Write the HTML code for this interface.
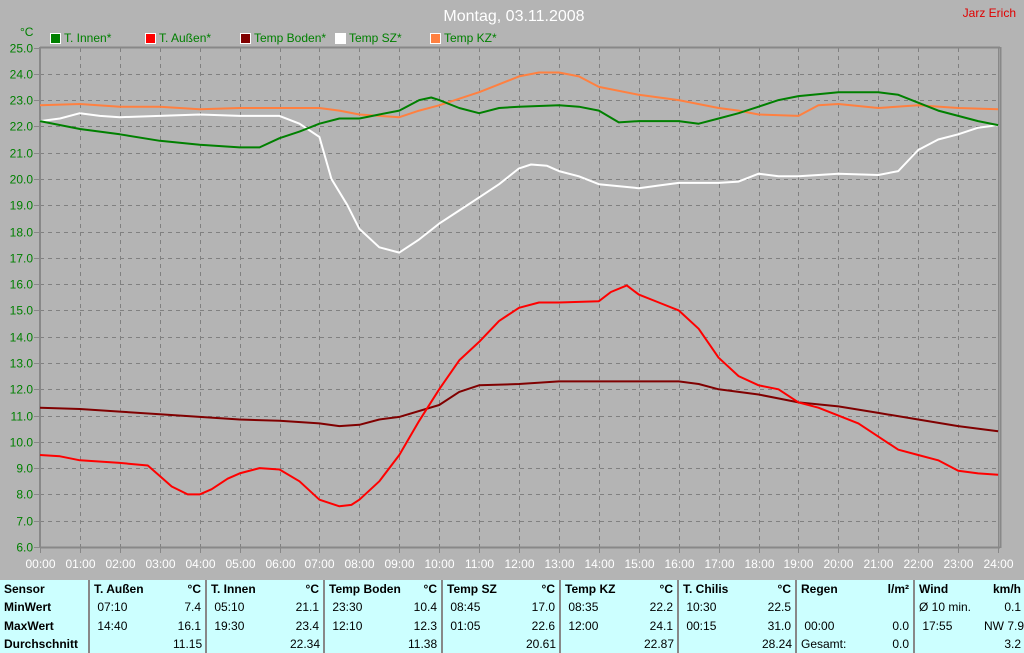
<!DOCTYPE html>
<html><head><meta charset="utf-8"><style>
body{margin:0;width:1024px;height:653px;background:#b4b4b4;overflow:hidden;font-family:"Liberation Sans",sans-serif;}
svg{position:absolute;left:0;top:0}
table{position:absolute;left:0;top:580px;width:1024px;height:73px;background:#ccffff;border-collapse:collapse;font-size:12px;table-layout:fixed}
td{padding:0 4px;height:16px;line-height:14px;vertical-align:middle;white-space:nowrap;overflow:hidden}
td.b{font-weight:bold}
td.r{text-align:right}
td.sep{border-right:2px solid #888}
</style></head><body>
<svg width="1024" height="580" font-family="Liberation Sans, sans-serif">
<text x="514" y="21" fill="#fff" font-size="16" text-anchor="middle">Montag, 03.11.2008</text>
<text x="1016" y="17" fill="#e00000" font-size="12" text-anchor="end">Jarz Erich</text>
<text x="20" y="36" fill="#008000" font-size="12">°C</text>
<g font-size="12" fill="#008000">
<rect x="50.5" y="33.5" width="10" height="10" fill="#008000" stroke="#fff"/><text x="64" y="42">T. Innen*</text>
<rect x="145.5" y="33.5" width="10" height="10" fill="#ff0000" stroke="#fff"/><text x="159" y="42">T. Außen*</text>
<rect x="240.5" y="33.5" width="10" height="10" fill="#800000" stroke="#fff"/><text x="254" y="42">Temp Boden*</text>
<rect x="335.5" y="33.5" width="10" height="10" fill="#fff" stroke="#fff"/><text x="349" y="42">Temp SZ*</text>
<rect x="430.5" y="33.5" width="10" height="10" fill="#ff8040" stroke="#fff"/><text x="444" y="42">Temp KZ*</text>
</g>
<g id="grid" stroke="#808080" stroke-dasharray="4,4" stroke-width="1"></g>
<g id="labels"></g>
<line x1="40" y1="47.5" x2="1000" y2="47.5" stroke="#888" stroke-width="2"/>
<line x1="40" y1="47" x2="40" y2="548" stroke="#888" stroke-width="2"/>
<line x1="40" y1="547.5" x2="1000" y2="547.5" stroke="#888" stroke-width="2"/>
<line x1="998.5" y1="47" x2="998.5" y2="548" stroke="#888" stroke-width="1"/>
<line x1="1000.5" y1="47" x2="1000.5" y2="548" stroke="#888" stroke-width="2"/>
<g id="series" fill="none" stroke-width="2" stroke-linejoin="round"></g>
</svg>
<table>
<colgroup><col style="width:89px"><col style="width:80px"><col style="width:37px"><col style="width:80px"><col style="width:38px"><col style="width:80px"><col style="width:38px"><col style="width:80px"><col style="width:38px"><col style="width:80px"><col style="width:38px"><col style="width:80px"><col style="width:38px"><col style="width:80px"><col style="width:38px"><col style="width:70px"><col style="width:41px"></colgroup>
<tr><td class="b sep">Sensor</td><td class="b">T. Außen</td><td class="b r sep">°C</td><td class="b">T. Innen</td><td class="b r sep">°C</td><td class="b">Temp Boden</td><td class="b r sep">°C</td><td class="b">Temp SZ</td><td class="b r sep">°C</td><td class="b">Temp KZ</td><td class="b r sep">°C</td><td class="b">T. Chilis</td><td class="b r sep">°C</td><td class="b">Regen</td><td class="b r sep">l/m²</td><td class="b">Wind</td><td class="b r">km/h</td></tr>
<tr><td class="b sep">MinWert</td><td>&nbsp;07:10</td><td class="r sep">7.4</td><td>&nbsp;05:10</td><td class="r sep">21.1</td><td>&nbsp;23:30</td><td class="r sep">10.4</td><td>&nbsp;08:45</td><td class="r sep">17.0</td><td>&nbsp;08:35</td><td class="r sep">22.2</td><td>&nbsp;10:30</td><td class="r sep">22.5</td><td></td><td class="r sep"></td><td>Ø 10 min.</td><td class="r">0.1</td></tr>
<tr><td class="b sep">MaxWert</td><td>&nbsp;14:40</td><td class="r sep">16.1</td><td>&nbsp;19:30</td><td class="r sep">23.4</td><td>&nbsp;12:10</td><td class="r sep">12.3</td><td>&nbsp;01:05</td><td class="r sep">22.6</td><td>&nbsp;12:00</td><td class="r sep">24.1</td><td>&nbsp;00:15</td><td class="r sep">31.0</td><td>&nbsp;00:00</td><td class="r sep">0.0</td><td>&nbsp;17:55</td><td class="r" style="overflow:visible;padding-left:0">NW 7.9</td></tr>
<tr><td class="b sep">Durchschnitt</td><td></td><td class="r sep">11.15</td><td></td><td class="r sep">22.34</td><td></td><td class="r sep">11.38</td><td></td><td class="r sep">20.61</td><td></td><td class="r sep">22.87</td><td></td><td class="r sep">28.24</td><td>Gesamt:</td><td class="r sep">0.0</td><td></td><td class="r">3.2</td></tr>
</table>
<script>
const NS="http://www.w3.org/2000/svg";
const X=h=>40+h*39.92, Y=v=>47.5+(25-v)*26.29;
const g=document.getElementById('grid'), L=document.getElementById('labels'), S=document.getElementById('series');
function el(p,t,a,txt){const e=document.createElementNS(NS,t);for(const k in a)e.setAttribute(k,a[k]);if(txt)e.textContent=txt;p.appendChild(e);return e;}
for(let v=6;v<=25;v++){const y=Math.round(Y(v))+0.5;
 if(v>6&&v<25)el(g,'line',{x1:40,y1:y,x2:998,y2:y});
 el(L,'line',{x1:34,y1:y,x2:40,y2:y,stroke:'#888'});
 el(L,'text',{x:33,y:y+4,fill:'#008000','font-size':12,'text-anchor':'end'},v.toFixed(1));}
for(let h=0;h<=24;h++){const x=Math.round(X(h))+0.5;
 if(h>0&&h<24)el(g,'line',{x1:x,y1:48,x2:x,y2:547});
 el(L,'line',{x1:x,y1:547,x2:x,y2:553,stroke:'#888'});
 el(L,'text',{x:x,y:568,fill:'#fff','font-size':12,'text-anchor':'middle'},(h<10?'0':'')+h+':00');}
const data={
'#ff8040':[0,22.8,1,22.85,2,22.75,3,22.75,4,22.65,5,22.7,6,22.7,7,22.7,7.5,22.6,8,22.45,9,22.35,9.5,22.6,10,22.8,11,23.3,11.5,23.6,12,23.9,12.5,24.05,13,24.05,13.5,23.9,14,23.5,15,23.2,16,23.0,17,22.7,17.5,22.6,18,22.45,19,22.4,19.5,22.8,20,22.85,21,22.7,22,22.8,23,22.7,24,22.65],
'#ffffff':[0,22.2,0.5,22.3,1,22.5,1.5,22.4,2,22.35,3,22.4,4,22.45,5,22.4,6,22.4,6.5,22.1,7,21.6,7.3,20.0,7.7,19.0,8,18.1,8.5,17.4,9,17.2,9.5,17.7,10,18.3,10.5,18.8,11,19.3,11.5,19.8,12,20.4,12.3,20.55,12.7,20.5,13,20.3,13.5,20.1,14,19.8,15,19.65,15.5,19.75,16,19.85,17,19.85,17.5,19.9,18,20.2,18.5,20.1,19,20.1,20,20.2,21,20.15,21.5,20.3,22,21.1,22.5,21.5,23,21.7,23.5,21.95,24,22.05],
'#008000':[0,22.2,1,21.9,2,21.7,3,21.45,4,21.3,5,21.2,5.5,21.2,6,21.55,6.5,21.8,7,22.1,7.5,22.3,8,22.3,8.5,22.45,9,22.6,9.5,23.0,9.8,23.1,10,23.0,10.5,22.7,11,22.5,11.5,22.7,12,22.75,13,22.8,13.5,22.75,14,22.6,14.5,22.15,15,22.2,16,22.2,16.5,22.1,17,22.3,17.5,22.5,18,22.75,18.5,23.0,19,23.15,20,23.3,21,23.3,21.5,23.2,22,22.9,22.5,22.6,23,22.4,23.5,22.2,24,22.05],
'#800000':[0,11.3,1,11.25,2,11.15,3,11.05,4,10.95,5,10.85,6,10.8,7,10.7,7.5,10.6,8,10.65,8.5,10.85,9,10.95,10,11.4,10.5,11.9,11,12.15,12,12.2,13,12.3,14,12.3,15,12.3,16,12.3,16.5,12.2,17,12.0,18,11.8,19,11.5,20,11.35,21,11.1,22,10.85,23,10.6,24,10.4],
'#ff0000':[0,9.5,0.5,9.45,1,9.3,2,9.2,2.7,9.1,3,8.7,3.3,8.3,3.7,8.0,4,8.0,4.3,8.2,4.7,8.6,5,8.8,5.5,9.0,6,8.95,6.5,8.5,7,7.8,7.5,7.55,7.8,7.6,8,7.8,8.5,8.5,9,9.5,9.5,10.8,10,12.0,10.5,13.1,11,13.8,11.5,14.6,12,15.1,12.5,15.3,13,15.3,14,15.35,14.3,15.7,14.7,15.95,15,15.6,15.5,15.3,16,15.0,16.5,14.3,17,13.2,17.5,12.5,18,12.15,18.5,12.0,19,11.5,19.5,11.3,20,11.0,20.5,10.7,21,10.2,21.5,9.7,22,9.5,22.5,9.3,23,8.9,23.5,8.8,24,8.75]};
for(const c in data){const d=data[c];let p=[];for(let i=0;i<d.length;i+=2)p.push(X(d[i]).toFixed(1)+','+Y(d[i+1]).toFixed(1));
 el(S,'polyline',{points:p.join(' '),stroke:c});}
</script>
</body></html>
